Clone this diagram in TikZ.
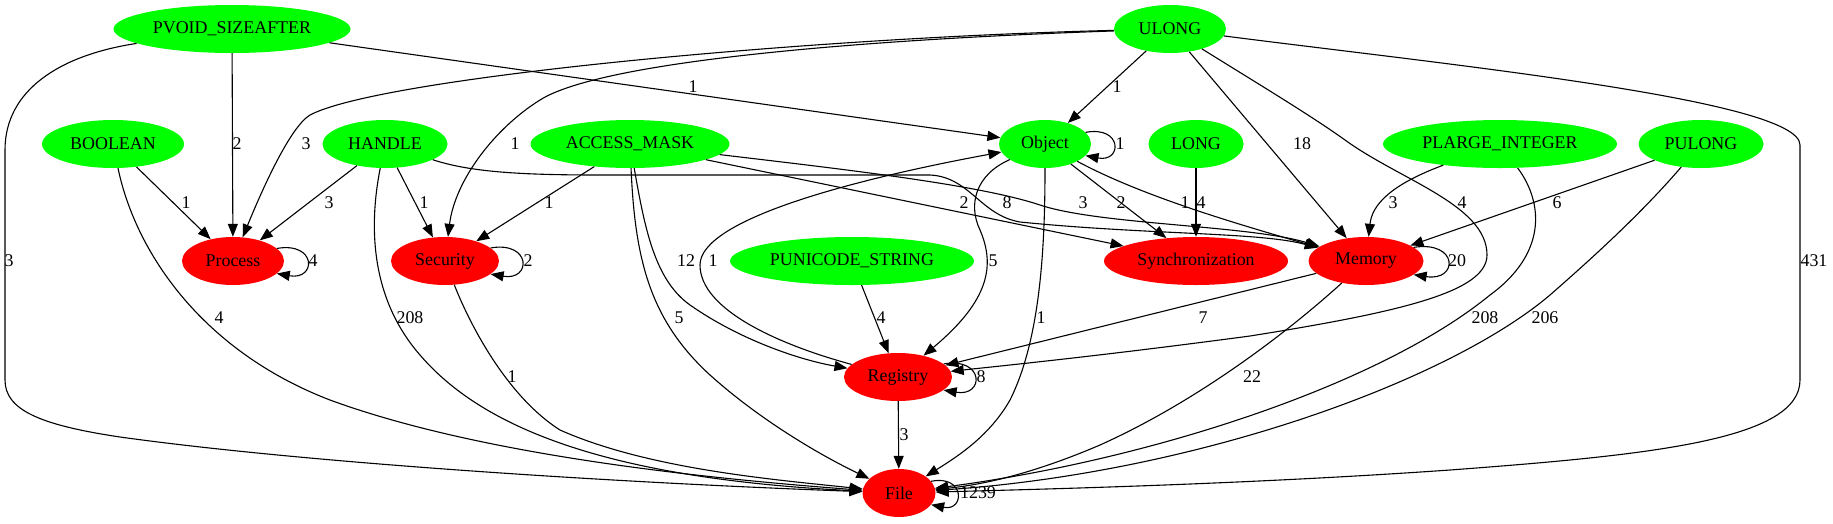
\documentclass[tikz,border=0pt]{standalone}
\usepackage{fontspec}
\setmainfont{Liberation Serif}
\usetikzlibrary{arrows.meta,shapes.geometric}
\definecolor{gvgreen}{RGB}{0,255,0}
\definecolor{gvred}{RGB}{255,0,0}
\begin{document}
\begin{tikzpicture}[x=1pt,y=-1pt,
  basenode/.style={ellipse, inner sep=0pt, minimum height=48pt, font=\fontsize{17.9}{20}\selectfont},
  gnode/.style={basenode, fill=gvgreen},
  rnode/.style={basenode, fill=gvred},
  edge/.style={draw=black, line width=1.1pt, -{Triangle[length=13pt,width=10pt]}},
  lab/.style={font=\fontsize{17.9}{20}\selectfont, inner sep=0pt}
]
\useasboundingbox (0,0) rectangle (1833,523);
% nodes
\node[gnode, minimum width=237pt] (pv) at (232,29) {PVOID\_SIZEAFTER};
\node[gnode, minimum width=112pt] (ul) at (1170,29) {ULONG};
\node[gnode, minimum width=142pt] (bo) at (113,144) {BOOLEAN};
\node[gnode, minimum width=125pt] (ha) at (385,144) {HANDLE};
\node[gnode, minimum width=199pt] (am) at (630,144) {ACCESS\_MASK};
\node[gnode, minimum width=92pt] (ob) at (1045,144) {Object};
\node[gnode, minimum width=95pt] (lo) at (1196,144) {LONG};
\node[gnode, minimum width=234pt] (pl) at (1500,144) {PLARGE\_INTEGER};
\node[gnode, minimum width=125pt] (pu) at (1701,144) {PULONG};
\node[rnode, minimum width=102pt] (pr) at (233,261) {Process};
\node[rnode, minimum width=108pt] (se) at (445,261) {Security};
\node[gnode, minimum width=244pt] (ps) at (852,261) {PUNICODE\_STRING};
\node[rnode, minimum width=184pt] (sy) at (1196,261) {Synchronization};
\node[rnode, minimum width=115pt] (me) at (1366,261) {Memory};
\node[rnode, minimum width=108pt] (re) at (898,377) {Registry};
\node[rnode, minimum width=73pt] (fi) at (899,493) {File};
% edges from PVOID_SIZEAFTER
\draw[edge] (pv) .. controls (60,55) and (5,90) .. (5,150) -- (5,380) .. controls (5,410) and (40,425) .. (120,437) .. controls (300,462) and (600,482) .. (fi);
\draw[edge] (pv) -- (pr);
\draw[edge] (pv) -- (ob);
% edges from ULONG
\draw[edge] (ul) .. controls (800,38) and (380,78) .. (310,115) .. controls (290,127) and (262,190) .. (pr);
\draw[edge] (ul) .. controls (850,40) and (600,62) .. (540,100) .. controls (495,128) and (455,180) .. (se);
\draw[edge] (ul) -- (ob);
\draw[edge] (ul) -- (me);
\draw[edge] (ul) .. controls (1260,85) and (1310,115) .. (1345,140) .. controls (1400,180) and (1487,205) .. (1487,255) .. controls (1487,292) and (1400,312) .. (1250,336) .. controls (1100,356) and (1000,366) .. (re);
\draw[edge] (ul) .. controls (1450,65) and (1800,100) .. (1800,145) -- (1800,380) .. controls (1800,440) and (1650,455) .. (1450,470) .. controls (1250,484) and (1050,489) .. (fi);
% BOOLEAN
\draw[edge] (bo) -- (pr);
\draw[edge] (bo) .. controls (135,250) and (200,350) .. (330,400) .. controls (480,455) and (700,478) .. (fi);
% HANDLE
\draw[edge] (ha) -- (pr);
\draw[edge] (ha) -- (se);
\draw[edge] (ha) .. controls (368,230) and (372,300) .. (420,355) .. controls (480,425) and (600,478) .. (fi);
\draw[edge] (ha) .. controls (470,172) and (520,175) .. (600,175) -- (930,175) .. controls (970,177) and (980,215) .. (1020,222) .. controls (1150,235) and (1260,232) .. (me);
% ACCESS_MASK
\draw[edge] (am) -- (se);
\draw[edge] (am) -- (sy);
\draw[edge] (am) .. controls (850,170) and (980,185) .. (1040,205) .. controls (1100,225) and (1250,225) .. (me);
\draw[edge] (am) .. controls (645,230) and (655,280) .. (690,305) .. controls (740,340) and (800,360) .. (re);
\draw[edge] (am) .. controls (635,260) and (650,320) .. (710,375) .. controls (760,420) and (820,455) .. (fi);
% Object
\draw[edge] (ob.16) .. controls +(37,-7) and +(37,7) .. (ob.-16);
\draw[edge] (ob) .. controls (975,175) and (968,205) .. (980,230) .. controls (995,265) and (990,300) .. (re);
\draw[edge] (ob) .. controls (1045,250) and (1040,340) .. (1010,400) .. controls (990,435) and (960,455) .. (fi);
\draw[edge] (ob) -- (sy);
\draw[edge] (ob) .. controls (1140,195) and (1230,222) .. (me);
% LONG
\draw[edge] (lo) -- (sy);
% PLARGE_INTEGER
\draw[edge] (pl) .. controls (1390,185) and (1372,205) .. (me);
\draw[edge] (pl) .. controls (1545,205) and (1545,255) .. (1490,295) .. controls (1380,385) and (1150,460) .. (fi);
% PULONG
\draw[edge] (pu) -- (me);
\draw[edge] (pu) .. controls (1640,215) and (1590,260) .. (1550,295) .. controls (1450,380) and (1200,472) .. (fi);
% Memory
\draw[edge] (me) -- (re);
\draw[edge] (me) .. controls (1290,330) and (1200,400) .. (1100,445) .. controls (1030,475) and (980,485) .. (fi);
\draw[edge] (me.16) .. controls +(45,-7) and +(45,7) .. (me.-16);
% Process, Security loops and Security->File
\draw[edge] (pr.16) .. controls +(40,-7) and +(40,7) .. (pr.-16);
\draw[edge] (se.16) .. controls +(41,-7) and +(41,7) .. (se.-16);
\draw[edge] (se) .. controls (468,320) and (505,395) .. (560,430) .. controls (650,470) and (780,480) .. (fi);
% Registry
\draw[edge] (re) .. controls (780,345) and (700,310) .. (700,265) .. controls (700,220) and (850,180) .. (ob);
\draw[edge] (re.16) .. controls +(41,-7) and +(41,7) .. (re.-16);
\draw[edge] (re) -- (fi);
% PUNICODE_STRING
\draw[edge] (ps) -- (re);
% File loop
\draw[edge] (fi.20) .. controls +(34,-7) and +(34,7) .. (fi.-20);
% labels
\node[lab] (l01) at (9,261) {3};
\node[lab] (l02) at (237,144) {2};
\node[lab] (l03) at (693,87) {1};
\node[lab] (l04) at (306,144) {3};
\node[lab] (l05) at (515,144) {1};
\node[lab] (l06) at (1117,87) {1};
\node[lab] (l07) at (1302,144) {18};
\node[lab] (l08) at (1462,203) {4};
\node[lab] (l09) at (1814,261) {431};
\node[lab] (l10) at (186,203) {1};
\node[lab] (l11) at (219,318) {4};
\node[lab] (l12) at (329,203) {3};
\node[lab] (l13) at (424,203) {1};
\node[lab] (l14) at (410,318) {208};
\node[lab] (l15) at (1007,203) {8};
\node[lab] (l16) at (549,203) {1};
\node[lab] (l17) at (964,203) {2};
\node[lab] (l18) at (1083,203) {3};
\node[lab] (l19) at (686,261) {12};
\node[lab] (l20) at (679,318) {5};
\node[lab] (l21) at (713,261) {1};
\node[lab] (l22) at (1120,144) {1};
\node[lab] (l23) at (993,261) {5};
\node[lab] (l24) at (1041,318) {1};
\node[lab] (l25) at (1121,203) {2};
\node[lab] (l26) at (1185,203) {1};
\node[lab] (l27) at (1201,203) {4};
\node[lab] (l28) at (1393,203) {3};
\node[lab] (l29) at (1485,318) {208};
\node[lab] (l30) at (1557,203) {6};
\node[lab] (l31) at (1545,318) {206};
\node[lab] (l32) at (1203,318) {7};
\node[lab] (l33) at (1252,377) {22};
\node[lab] (l34) at (1457,261) {20};
\node[lab] (l35) at (528,261) {2};
\node[lab] (l36) at (313,261) {4};
\node[lab] (l37) at (512,377) {1};
\node[lab] (l38) at (881,318) {4};
\node[lab] (l39) at (904,435) {3};
\node[lab] (l40) at (981,377) {8};
\node[lab] (l41) at (978,493) {1239};
\end{tikzpicture}
\end{document}
